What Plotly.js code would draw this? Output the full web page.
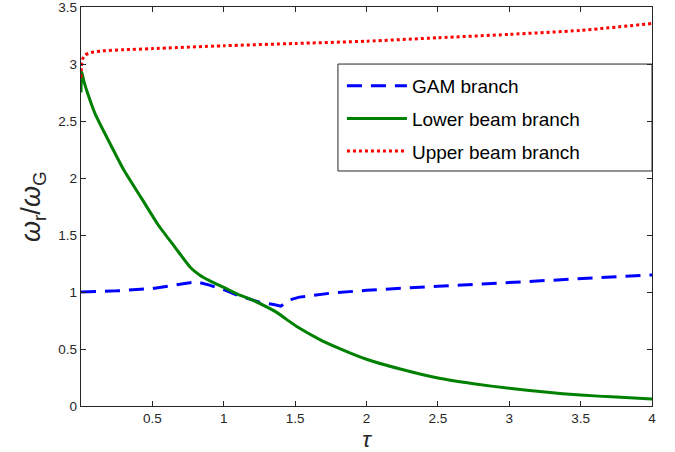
<!DOCTYPE html>
<html>
<head>
<meta charset="utf-8">
<script src="https://cdn.plot.ly/plotly-3.0.1.min.js"></script>
<style>
  html, body { margin: 0; padding: 0; background: #fff; }
  #chart { width: 675px; height: 452px; }
</style>
</head>
<body>
<div id="chart"></div>
<script>
// Normalised real frequency of each branch versus tau
const gamTau   = [0, 0.25, 0.5, 0.6, 0.7, 0.81, 0.9, 1.0, 1.1, 1.25, 1.35, 1.4, 1.46, 1.53, 1.75, 2.0, 2.5, 3.0, 3.5, 4.0];
const gamOmega = [1.0, 1.01, 1.03, 1.05, 1.07, 1.09, 1.06, 1.02, 0.97, 0.91, 0.89, 0.875, 0.93, 0.955, 0.99, 1.015, 1.05, 1.085, 1.115, 1.15];

const lowerTau   = [0, 0.005, 0.02, 0.05, 0.1, 0.2, 0.3, 0.42, 0.54, 0.66, 0.77, 0.83, 0.9, 1.0, 1.1, 1.2, 1.3, 1.36, 1.44, 1.52, 1.67, 1.8, 2.0, 2.25, 2.5, 2.75, 3.0, 3.25, 3.5, 3.75, 4.0];
const lowerOmega = [2.75, 2.93, 2.85, 2.73, 2.56, 2.31, 2.07, 1.83, 1.59, 1.39, 1.21, 1.15, 1.10, 1.04, 0.98, 0.93, 0.87, 0.83, 0.76, 0.69, 0.585, 0.51, 0.41, 0.32, 0.245, 0.195, 0.155, 0.122, 0.096, 0.078, 0.062];

const upperTau   = [0, 0.003, 0.01, 0.03, 0.07, 0.15, 0.3, 0.5, 1.0, 1.5, 2.0, 2.5, 3.0, 3.5, 4.0];
const upperOmega = [2.88, 2.98, 3.04, 3.08, 3.10, 3.115, 3.125, 3.135, 3.16, 3.18, 3.20, 3.23, 3.26, 3.295, 3.355];

const xTicks = [0.5, 1, 1.5, 2, 2.5, 3, 3.5, 4];
const xTickText = ['0.5', '1', '1.5', '2', '2.5', '3', '3.5', '4'];
const yTicks = [0, 0.5, 1, 1.5, 2, 2.5, 3, 3.5];
const yTickText = ['0', '0.5', '1', '1.5', '2', '2.5', '3', '3.5'];

const FONT = 'Liberation Sans, Arial, Helvetica, sans-serif';
const AXIS = '#262626';

const traces = [
  {
    x: gamTau, y: gamOmega, name: 'GAM branch', mode: 'lines', legendgroup: 'gam',
    line: { color: '#0000ff', width: 3, dash: '15px,9px' }
  },
  {
    x: lowerTau, y: lowerOmega, name: 'Lower beam branch', mode: 'lines', legendgroup: 'lower',
    line: { color: '#008000', width: 3, shape: 'spline', smoothing: 0.6 }
  },
  {
    x: upperTau, y: upperOmega, name: 'Upper beam branch', mode: 'lines', legendgroup: 'upper',
    line: { color: '#ff0000', width: 3, dash: '3px,3px', shape: 'spline', smoothing: 0.6 }
  }
];

const axisCommon = {
  showline: true, linecolor: AXIS, linewidth: 1.2, mirror: 'ticks',
  ticks: 'inside', ticklen: 5, tickwidth: 1, tickcolor: AXIS,
  showgrid: false, zeroline: false, ticklabeloverflow: 'allow',
  tickfont: { family: FONT, size: 13.5, color: AXIS }
};

const layout = {
  width: 675, height: 452,
  margin: { l: 81, r: 23, t: 7, b: 46 },
  paper_bgcolor: '#fff', plot_bgcolor: '#fff',
  showlegend: true,
  xaxis: Object.assign({}, axisCommon, {
    range: [0, 4], tickvals: xTicks, ticktext: xTickText,
    title: { text: '<i>τ</i>', font: { family: FONT, size: 23, color: AXIS }, standoff: 6 }
  }),
  yaxis: Object.assign({}, axisCommon, {
    range: [0, 3.5], tickvals: yTicks, ticktext: yTickText
  }),
  annotations: [{
    text: '<i>ω</i><sub>r</sub>/<i>ω</i><sub>G</sub>',
    xref: 'paper', yref: 'paper', x: -0.085, y: 0.5,
    xanchor: 'center', yanchor: 'middle', textangle: -90, showarrow: false,
    font: { family: FONT, size: 27, color: AXIS }
  }],
  // legend frame
  shapes: [{
    type: 'rect', xref: 'paper', yref: 'paper',
    x0: 0.45, x1: 1.0, y0: 0.589, y1: 0.857,
    line: { color: AXIS, width: 1 }, fillcolor: '#fff', layer: 'below'
  }],
  legend: {
    x: 0.457, y: 0.85, xanchor: 'left', yanchor: 'top',
    bgcolor: 'rgba(0,0,0,0)', borderwidth: 0,
    font: { family: FONT, size: 19, color: '#000' },
    itemwidth: 60, tracegroupgap: 5
  }
};

Plotly.newPlot('chart', traces, layout, { staticPlot: true, displayModeBar: false });
</script>
</body>
</html>
